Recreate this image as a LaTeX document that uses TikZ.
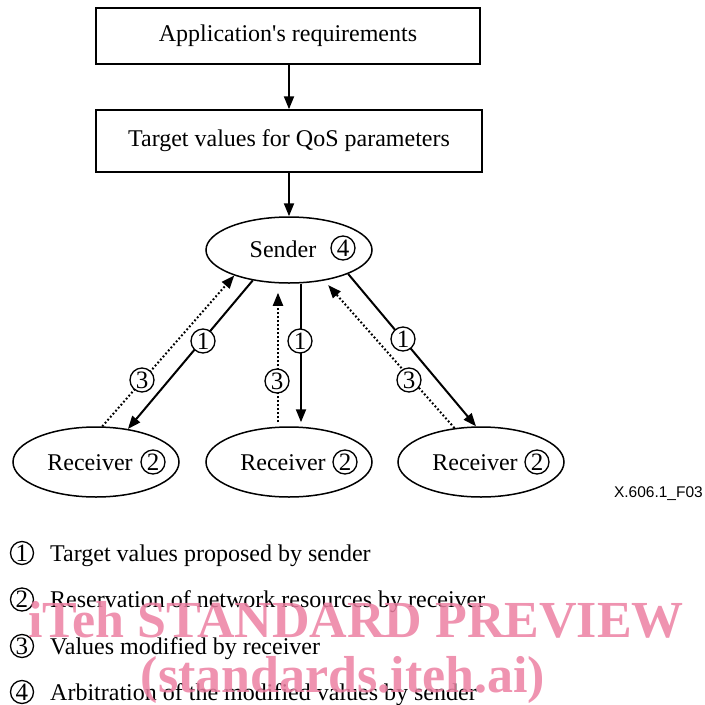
\documentclass[tikz,border=0pt]{standalone}
\usepackage{fontspec}
\setmainfont{Liberation Serif}
\setsansfont{Liberation Sans}
\usetikzlibrary{arrows.meta,shapes.geometric}
\definecolor{wm}{RGB}{236,128,162}
\begin{document}
\begin{tikzpicture}[x=1pt,y=-1pt,
  every node/.style={font=\fontsize{24}{28}\selectfont},
  box/.style={draw,line width=1.5pt,inner sep=0},
  oval/.style={draw,ellipse,line width=1.5pt,minimum width=166pt,minimum height=66pt,inner sep=0},
  cnum/.style={draw,circle,line width=1.3pt,minimum size=24pt,inner sep=0,fill=white,font=\fontsize{25}{28}\selectfont},
  lnum/.style={draw,circle,line width=1.3pt,minimum size=23pt,inner sep=0,font=\fontsize{25}{28}\selectfont},
  tip/.style={-{Triangle[length=13pt,width=10pt]}},
  arr/.style={line width=2pt,tip},
  darr/.style={line width=2pt,dash pattern=on 1.8pt off 2.2pt,tip},
  lab/.style={anchor=base west,inner sep=0},
  wmark/.style={font=\fontsize{52}{56}\bfseries\selectfont,text=wm,opacity=0.85}]
\useasboundingbox (0,0) rectangle (705,705);
% boxes
\node[box,minimum width=384pt,minimum height=56pt] (b1) at (288,36) {Application\textquotesingle s requirements};
\node[box,minimum width=386pt,minimum height=62pt] (b2) at (289,141) {Target values for QoS parameters};
% sender and receivers
\node[oval] (snd) at (289,250) {};
\node[anchor=base] (sndt) at (283,257) {Sender};
\node[cnum] (s4) at (343,248) {4};
\node[oval,minimum height=70pt] (r1) at (96,462) {};
\node[oval,minimum height=70pt] (r2) at (289,462) {};
\node[oval,minimum height=70pt] (r3) at (481,462) {};
\node[anchor=base] (r1t) at (90,470) {Receiver};
\node[anchor=base] (r2t) at (283,470) {Receiver};
\node[anchor=base] (r3t) at (475,470) {Receiver};
\node[cnum] (r1n) at (153,462) {2};
\node[cnum] (r2n) at (345,462) {2};
\node[cnum] (r3n) at (537,462) {2};
% vertical arrows
\draw[arr] (b2.north |- b1.south) -- (b2.north);
\draw[arr] (b2.south) -- (snd.north);
% left
\draw[arr] (snd.220) -- (r1.46);
\draw[darr] (r1.80) -- (snd.205);
\node[cnum] (l1) at (203,341) {1};
\node[cnum] (l3) at (142,380) {3};
% middle
\coordinate (mdx) at (278,0);
\coordinate (msx) at (301,0);
\draw[darr,shorten <=4pt,shorten >=9pt] (r2.north -| mdx) -- (snd.south -| mdx);
\draw[arr,shorten >=4pt] (snd.south -| msx) -- (r2.north -| msx);
\node[cnum] (m3) at (277,381) {3};
\node[cnum] (m1) at (300,341) {1};
% right
\draw[arr] (snd.338) -- (r3.98);
\draw[darr,shorten >=6pt] (r3.128) -- (snd.319);
\node[cnum] (q1) at (403,339) {1};
\node[cnum] (q3) at (409,380) {3};
% figure id
\node[anchor=base east,inner sep=0,font=\sffamily\fontsize{15.5}{18}\selectfont] (fid) at (703,497) {X.606.1\_F03};
% legend
\node[lnum] (n1) at (22,553) {1};
\node[lab] (t1) at (50,561) {Target values proposed by sender};
\node[lnum] (n2) at (22,599.5) {2};
\node[lab] (t2) at (50,607.5) {Reservation of network resources by receiver};
\node[lnum] (n3) at (22,646) {3};
\node[lab] (t3) at (50,654) {Values modified by receiver};
\node[lnum] (n4) at (22,692) {4};
\node[lab] (t4) at (50,700) {Arbitration of the modified values by sender};
% watermark
\node[wmark,anchor=base] (wm1) at (356,637) {iTeh STANDARD PREVIEW};
\node[wmark,anchor=base] (wm2) at (343,692) {(standards.iteh.ai)};
\end{tikzpicture}
\end{document}
